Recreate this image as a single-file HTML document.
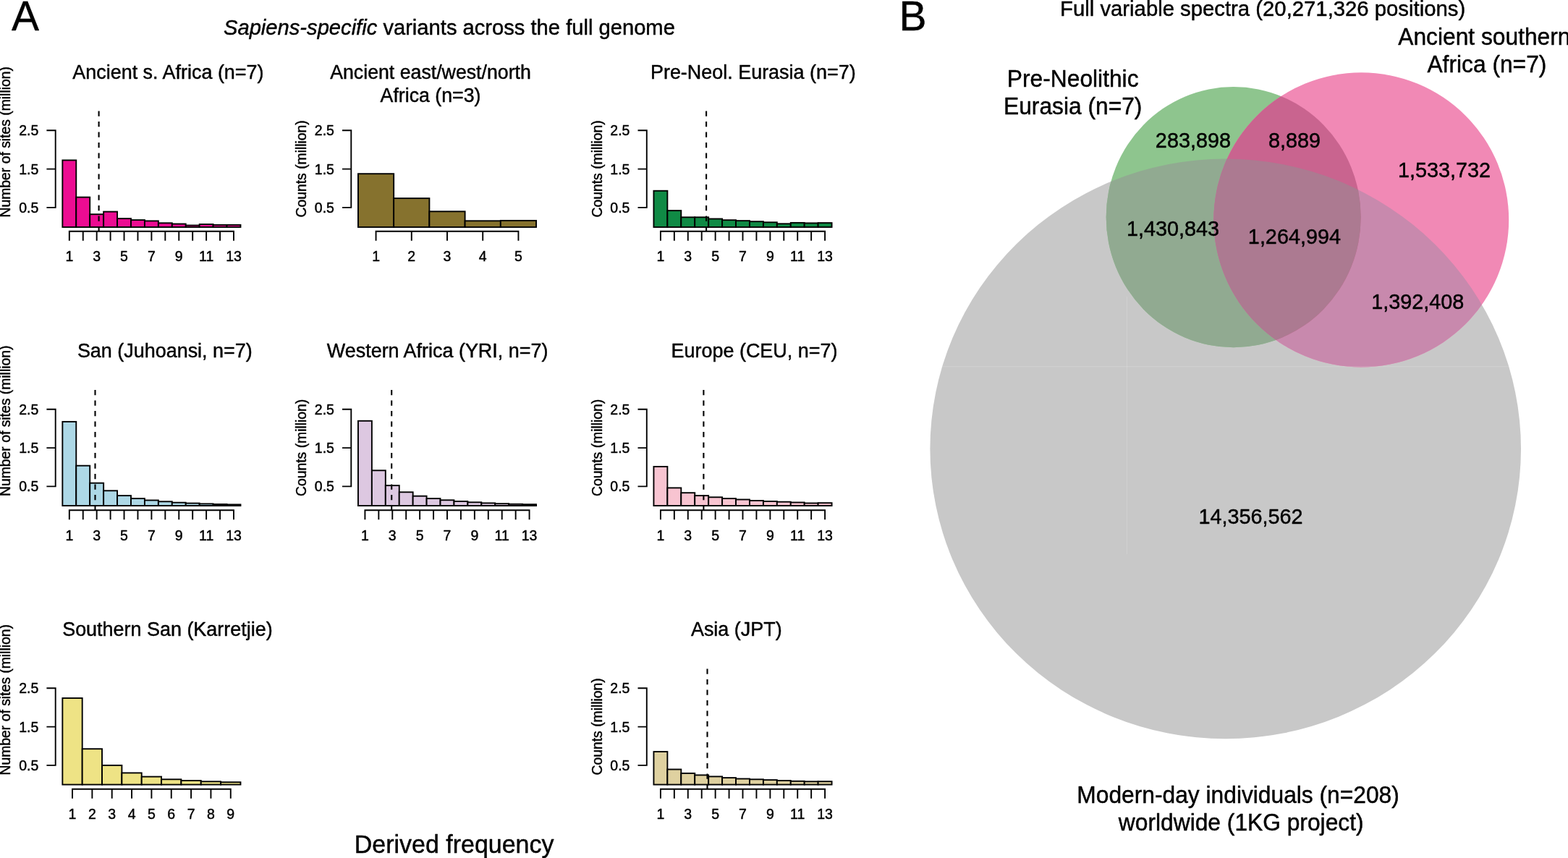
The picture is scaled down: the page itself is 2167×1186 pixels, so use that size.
<!DOCTYPE html>
<html lang="en">
<head>
<meta charset="utf-8">
<title>Sapiens-specific variants across the full genome</title>
<style>
html,body{margin:0;padding:0;background:#fff;}
body{width:2167px;height:1186px;overflow:hidden;}
svg{display:block;font-family:"Liberation Sans", Arial, Helvetica, sans-serif;fill:#000;}
text{stroke:#000;stroke-width:0.45px;stroke-linejoin:round;}
</style>
</head>
<body>
<svg width="2167" height="1186" viewBox="0 0 2167 1186">
<rect width="2167" height="1186" fill="#fff"/>
<g id="panelA">
<text transform="translate(16.1 42.05)" font-size="57">A</text>
<text transform="translate(309 48) scale(1 1.03)" font-size="29.16"><tspan font-style="italic">Sapiens-specific</tspan> variants across the full genome</text>
<g>
<text transform="translate(232.4 108.85) scale(1 1.03)" font-size="26.95" text-anchor="middle">Ancient s. Africa (n=7)</text>
<text transform="translate(14.4 300.5) rotate(-90) scale(1 1.03)" font-size="19.35">Number of sites (million)</text>
<rect x="86.35" y="221.45" width="18.93" height="92.5" fill="#EC0C92" stroke="#000" stroke-width="1.9" stroke-linejoin="miter"/>
<rect x="105.28" y="272.6" width="18.93" height="41.35" fill="#EC0C92" stroke="#000" stroke-width="1.9" stroke-linejoin="miter"/>
<rect x="124.21" y="296.2" width="18.93" height="17.75" fill="#EC0C92" stroke="#000" stroke-width="1.9" stroke-linejoin="miter"/>
<rect x="143.14" y="292.6" width="18.93" height="21.35" fill="#EC0C92" stroke="#000" stroke-width="1.9" stroke-linejoin="miter"/>
<rect x="162.07" y="302.1" width="18.93" height="11.85" fill="#EC0C92" stroke="#000" stroke-width="1.9" stroke-linejoin="miter"/>
<rect x="181" y="304.1" width="18.93" height="9.85" fill="#EC0C92" stroke="#000" stroke-width="1.9" stroke-linejoin="miter"/>
<rect x="199.93" y="305.4" width="18.93" height="8.55" fill="#EC0C92" stroke="#000" stroke-width="1.9" stroke-linejoin="miter"/>
<rect x="218.87" y="308.3" width="18.93" height="5.65" fill="#EC0C92" stroke="#000" stroke-width="1.9" stroke-linejoin="miter"/>
<rect x="237.8" y="309.5" width="18.93" height="4.45" fill="#EC0C92" stroke="#000" stroke-width="1.9" stroke-linejoin="miter"/>
<rect x="256.73" y="311.5" width="18.93" height="2.45" fill="#EC0C92" stroke="#000" stroke-width="1.9" stroke-linejoin="miter"/>
<rect x="275.66" y="310" width="18.93" height="3.95" fill="#EC0C92" stroke="#000" stroke-width="1.9" stroke-linejoin="miter"/>
<rect x="294.59" y="310.9" width="18.93" height="3.05" fill="#EC0C92" stroke="#000" stroke-width="1.9" stroke-linejoin="miter"/>
<rect x="313.52" y="310.9" width="18.93" height="3.05" fill="#EC0C92" stroke="#000" stroke-width="1.9" stroke-linejoin="miter"/>
<line x1="136.6" y1="153.4" x2="136.6" y2="319.7" stroke="#000" stroke-width="2.1" stroke-dasharray="7.3 7.2"/>
<path d="M64.4 180.3H76.7V286.9H64.4M64.4 233.6H76.7" fill="none" stroke="#000" stroke-width="1.9" stroke-linecap="butt"/>
<text transform="translate(53.3 187.3) scale(1 1.03)" font-size="19.5" text-anchor="end">2.5</text>
<text transform="translate(53.3 240.6) scale(1 1.03)" font-size="19.5" text-anchor="end">1.5</text>
<text transform="translate(53.3 293.9) scale(1 1.03)" font-size="19.5" text-anchor="end">0.5</text>
<path d="M95.82 319.7H322.98M95.82 319.7V331.7M114.75 319.7V331.7M133.68 319.7V331.7M152.61 319.7V331.7M171.54 319.7V331.7M190.47 319.7V331.7M209.4 319.7V331.7M228.33 319.7V331.7M247.26 319.7V331.7M266.19 319.7V331.7M285.12 319.7V331.7M304.05 319.7V331.7M322.98 319.7V331.7" fill="none" stroke="#000" stroke-width="1.9" stroke-linecap="square"/>
<text transform="translate(95.82 361.1) scale(1 1.03)" font-size="19.5" text-anchor="middle">1</text>
<text transform="translate(133.68 361.1) scale(1 1.03)" font-size="19.5" text-anchor="middle">3</text>
<text transform="translate(171.54 361.1) scale(1 1.03)" font-size="19.5" text-anchor="middle">5</text>
<text transform="translate(209.4 361.1) scale(1 1.03)" font-size="19.5" text-anchor="middle">7</text>
<text transform="translate(247.26 361.1) scale(1 1.03)" font-size="19.5" text-anchor="middle">9</text>
<text transform="translate(285.12 361.1) scale(1 1.03)" font-size="19.5" text-anchor="middle">11</text>
<text transform="translate(322.98 361.1) scale(1 1.03)" font-size="19.5" text-anchor="middle">13</text>
</g>
<g>
<text transform="translate(595 108.85) scale(1 1.03)" font-size="26.72" text-anchor="middle">Ancient east/west/north</text>
<text transform="translate(595 140.55) scale(1 1.03)" font-size="26.72" text-anchor="middle">Africa (n=3)</text>
<text transform="translate(423 300.5) rotate(-90) scale(1 1.03)" font-size="19.35">Counts (million)</text>
<rect x="494.95" y="240.2" width="49.22" height="73.75" fill="#86722E" stroke="#000" stroke-width="1.9" stroke-linejoin="miter"/>
<rect x="544.17" y="274.1" width="49.22" height="39.85" fill="#86722E" stroke="#000" stroke-width="1.9" stroke-linejoin="miter"/>
<rect x="593.39" y="292.3" width="49.22" height="21.65" fill="#86722E" stroke="#000" stroke-width="1.9" stroke-linejoin="miter"/>
<rect x="642.61" y="305.3" width="49.22" height="8.65" fill="#86722E" stroke="#000" stroke-width="1.9" stroke-linejoin="miter"/>
<rect x="691.83" y="304.9" width="49.22" height="9.05" fill="#86722E" stroke="#000" stroke-width="1.9" stroke-linejoin="miter"/>
<path d="M473 180.3H485.3V286.9H473M473 233.6H485.3" fill="none" stroke="#000" stroke-width="1.9" stroke-linecap="butt"/>
<text transform="translate(461.9 187.3) scale(1 1.03)" font-size="19.5" text-anchor="end">2.5</text>
<text transform="translate(461.9 240.6) scale(1 1.03)" font-size="19.5" text-anchor="end">1.5</text>
<text transform="translate(461.9 293.9) scale(1 1.03)" font-size="19.5" text-anchor="end">0.5</text>
<path d="M519.56 319.7H716.44M519.56 319.7V331.7M568.78 319.7V331.7M618 319.7V331.7M667.22 319.7V331.7M716.44 319.7V331.7" fill="none" stroke="#000" stroke-width="1.9" stroke-linecap="square"/>
<text transform="translate(519.56 361.1) scale(1 1.03)" font-size="19.5" text-anchor="middle">1</text>
<text transform="translate(568.78 361.1) scale(1 1.03)" font-size="19.5" text-anchor="middle">2</text>
<text transform="translate(618 361.1) scale(1 1.03)" font-size="19.5" text-anchor="middle">3</text>
<text transform="translate(667.22 361.1) scale(1 1.03)" font-size="19.5" text-anchor="middle">4</text>
<text transform="translate(716.44 361.1) scale(1 1.03)" font-size="19.5" text-anchor="middle">5</text>
</g>
<g>
<text transform="translate(1040.8 108.85) scale(1 1.03)" font-size="26.95" text-anchor="middle">Pre-Neol. Eurasia (n=7)</text>
<text transform="translate(831.5 300.5) rotate(-90) scale(1 1.03)" font-size="19.35">Counts (million)</text>
<rect x="903.45" y="263.75" width="18.93" height="50.2" fill="#108A45" stroke="#000" stroke-width="1.9" stroke-linejoin="miter"/>
<rect x="922.38" y="291.1" width="18.93" height="22.85" fill="#108A45" stroke="#000" stroke-width="1.9" stroke-linejoin="miter"/>
<rect x="941.31" y="300.3" width="18.93" height="13.65" fill="#108A45" stroke="#000" stroke-width="1.9" stroke-linejoin="miter"/>
<rect x="960.24" y="300.3" width="18.93" height="13.65" fill="#108A45" stroke="#000" stroke-width="1.9" stroke-linejoin="miter"/>
<rect x="979.17" y="302.5" width="18.93" height="11.45" fill="#108A45" stroke="#000" stroke-width="1.9" stroke-linejoin="miter"/>
<rect x="998.1" y="304.2" width="18.93" height="9.75" fill="#108A45" stroke="#000" stroke-width="1.9" stroke-linejoin="miter"/>
<rect x="1017.03" y="305.1" width="18.93" height="8.85" fill="#108A45" stroke="#000" stroke-width="1.9" stroke-linejoin="miter"/>
<rect x="1035.97" y="306.2" width="18.93" height="7.75" fill="#108A45" stroke="#000" stroke-width="1.9" stroke-linejoin="miter"/>
<rect x="1054.9" y="307.3" width="18.93" height="6.65" fill="#108A45" stroke="#000" stroke-width="1.9" stroke-linejoin="miter"/>
<rect x="1073.83" y="309.3" width="18.93" height="4.65" fill="#108A45" stroke="#000" stroke-width="1.9" stroke-linejoin="miter"/>
<rect x="1092.76" y="307.9" width="18.93" height="6.05" fill="#108A45" stroke="#000" stroke-width="1.9" stroke-linejoin="miter"/>
<rect x="1111.69" y="308.4" width="18.93" height="5.55" fill="#108A45" stroke="#000" stroke-width="1.9" stroke-linejoin="miter"/>
<rect x="1130.62" y="308.1" width="18.93" height="5.85" fill="#108A45" stroke="#000" stroke-width="1.9" stroke-linejoin="miter"/>
<line x1="976.1" y1="153.4" x2="976.1" y2="319.7" stroke="#000" stroke-width="2.1" stroke-dasharray="7.3 7.2"/>
<path d="M881.5 180.3H893.8V286.9H881.5M881.5 233.6H893.8" fill="none" stroke="#000" stroke-width="1.9" stroke-linecap="butt"/>
<text transform="translate(870.4 187.3) scale(1 1.03)" font-size="19.5" text-anchor="end">2.5</text>
<text transform="translate(870.4 240.6) scale(1 1.03)" font-size="19.5" text-anchor="end">1.5</text>
<text transform="translate(870.4 293.9) scale(1 1.03)" font-size="19.5" text-anchor="end">0.5</text>
<path d="M912.92 319.7H1140.08M912.92 319.7V331.7M931.85 319.7V331.7M950.78 319.7V331.7M969.71 319.7V331.7M988.64 319.7V331.7M1007.57 319.7V331.7M1026.5 319.7V331.7M1045.43 319.7V331.7M1064.36 319.7V331.7M1083.29 319.7V331.7M1102.22 319.7V331.7M1121.15 319.7V331.7M1140.08 319.7V331.7" fill="none" stroke="#000" stroke-width="1.9" stroke-linecap="square"/>
<text transform="translate(912.92 361.1) scale(1 1.03)" font-size="19.5" text-anchor="middle">1</text>
<text transform="translate(950.78 361.1) scale(1 1.03)" font-size="19.5" text-anchor="middle">3</text>
<text transform="translate(988.64 361.1) scale(1 1.03)" font-size="19.5" text-anchor="middle">5</text>
<text transform="translate(1026.5 361.1) scale(1 1.03)" font-size="19.5" text-anchor="middle">7</text>
<text transform="translate(1064.36 361.1) scale(1 1.03)" font-size="19.5" text-anchor="middle">9</text>
<text transform="translate(1102.22 361.1) scale(1 1.03)" font-size="19.5" text-anchor="middle">11</text>
<text transform="translate(1140.08 361.1) scale(1 1.03)" font-size="19.5" text-anchor="middle">13</text>
</g>
<g>
<text transform="translate(227.8 493.6) scale(1 1.03)" font-size="26.95" text-anchor="middle">San (Juhoansi, n=7)</text>
<text transform="translate(14.4 686) rotate(-90) scale(1 1.03)" font-size="19.35">Number of sites (million)</text>
<rect x="86.35" y="582.9" width="18.93" height="116.15" fill="#ADD8E6" stroke="#000" stroke-width="1.9" stroke-linejoin="miter"/>
<rect x="105.28" y="643.7" width="18.93" height="55.35" fill="#ADD8E6" stroke="#000" stroke-width="1.9" stroke-linejoin="miter"/>
<rect x="124.21" y="667.7" width="18.93" height="31.35" fill="#ADD8E6" stroke="#000" stroke-width="1.9" stroke-linejoin="miter"/>
<rect x="143.14" y="678.3" width="18.93" height="20.75" fill="#ADD8E6" stroke="#000" stroke-width="1.9" stroke-linejoin="miter"/>
<rect x="162.07" y="685.1" width="18.93" height="13.95" fill="#ADD8E6" stroke="#000" stroke-width="1.9" stroke-linejoin="miter"/>
<rect x="181" y="689.1" width="18.93" height="9.95" fill="#ADD8E6" stroke="#000" stroke-width="1.9" stroke-linejoin="miter"/>
<rect x="199.93" y="691.5" width="18.93" height="7.55" fill="#ADD8E6" stroke="#000" stroke-width="1.9" stroke-linejoin="miter"/>
<rect x="218.87" y="693.3" width="18.93" height="5.75" fill="#ADD8E6" stroke="#000" stroke-width="1.9" stroke-linejoin="miter"/>
<rect x="237.8" y="694.7" width="18.93" height="4.35" fill="#ADD8E6" stroke="#000" stroke-width="1.9" stroke-linejoin="miter"/>
<rect x="256.73" y="695.6" width="18.93" height="3.45" fill="#ADD8E6" stroke="#000" stroke-width="1.9" stroke-linejoin="miter"/>
<rect x="275.66" y="696.4" width="18.93" height="2.65" fill="#ADD8E6" stroke="#000" stroke-width="1.9" stroke-linejoin="miter"/>
<rect x="294.59" y="697" width="18.93" height="2.05" fill="#ADD8E6" stroke="#000" stroke-width="1.9" stroke-linejoin="miter"/>
<rect x="313.52" y="697.4" width="18.93" height="1.65" fill="#ADD8E6" stroke="#000" stroke-width="1.9" stroke-linejoin="miter"/>
<line x1="131.5" y1="538.9" x2="131.5" y2="705.2" stroke="#000" stroke-width="2.1" stroke-dasharray="7.3 7.2"/>
<path d="M64.4 565.8H76.7V672.4H64.4M64.4 619.1H76.7" fill="none" stroke="#000" stroke-width="1.9" stroke-linecap="butt"/>
<text transform="translate(53.3 572.8) scale(1 1.03)" font-size="19.5" text-anchor="end">2.5</text>
<text transform="translate(53.3 626.1) scale(1 1.03)" font-size="19.5" text-anchor="end">1.5</text>
<text transform="translate(53.3 679.4) scale(1 1.03)" font-size="19.5" text-anchor="end">0.5</text>
<path d="M95.82 705.2H322.98M95.82 705.2V717.2M114.75 705.2V717.2M133.68 705.2V717.2M152.61 705.2V717.2M171.54 705.2V717.2M190.47 705.2V717.2M209.4 705.2V717.2M228.33 705.2V717.2M247.26 705.2V717.2M266.19 705.2V717.2M285.12 705.2V717.2M304.05 705.2V717.2M322.98 705.2V717.2" fill="none" stroke="#000" stroke-width="1.9" stroke-linecap="square"/>
<text transform="translate(95.82 746.6) scale(1 1.03)" font-size="19.5" text-anchor="middle">1</text>
<text transform="translate(133.68 746.6) scale(1 1.03)" font-size="19.5" text-anchor="middle">3</text>
<text transform="translate(171.54 746.6) scale(1 1.03)" font-size="19.5" text-anchor="middle">5</text>
<text transform="translate(209.4 746.6) scale(1 1.03)" font-size="19.5" text-anchor="middle">7</text>
<text transform="translate(247.26 746.6) scale(1 1.03)" font-size="19.5" text-anchor="middle">9</text>
<text transform="translate(285.12 746.6) scale(1 1.03)" font-size="19.5" text-anchor="middle">11</text>
<text transform="translate(322.98 746.6) scale(1 1.03)" font-size="19.5" text-anchor="middle">13</text>
</g>
<g>
<text transform="translate(604.6 493.6) scale(1 1.03)" font-size="26.95" text-anchor="middle">Western Africa (YRI, n=7)</text>
<text transform="translate(423 686) rotate(-90) scale(1 1.03)" font-size="19.35">Counts (million)</text>
<rect x="494.95" y="581.8" width="18.93" height="117.25" fill="#DDC8E1" stroke="#000" stroke-width="1.9" stroke-linejoin="miter"/>
<rect x="513.88" y="650.3" width="18.93" height="48.75" fill="#DDC8E1" stroke="#000" stroke-width="1.9" stroke-linejoin="miter"/>
<rect x="532.81" y="671.1" width="18.93" height="27.95" fill="#DDC8E1" stroke="#000" stroke-width="1.9" stroke-linejoin="miter"/>
<rect x="551.74" y="680.3" width="18.93" height="18.75" fill="#DDC8E1" stroke="#000" stroke-width="1.9" stroke-linejoin="miter"/>
<rect x="570.67" y="685.7" width="18.93" height="13.35" fill="#DDC8E1" stroke="#000" stroke-width="1.9" stroke-linejoin="miter"/>
<rect x="589.6" y="689.1" width="18.93" height="9.95" fill="#DDC8E1" stroke="#000" stroke-width="1.9" stroke-linejoin="miter"/>
<rect x="608.53" y="691.3" width="18.93" height="7.75" fill="#DDC8E1" stroke="#000" stroke-width="1.9" stroke-linejoin="miter"/>
<rect x="627.47" y="693" width="18.93" height="6.05" fill="#DDC8E1" stroke="#000" stroke-width="1.9" stroke-linejoin="miter"/>
<rect x="646.4" y="694.3" width="18.93" height="4.75" fill="#DDC8E1" stroke="#000" stroke-width="1.9" stroke-linejoin="miter"/>
<rect x="665.33" y="695.4" width="18.93" height="3.65" fill="#DDC8E1" stroke="#000" stroke-width="1.9" stroke-linejoin="miter"/>
<rect x="684.26" y="696.2" width="18.93" height="2.85" fill="#DDC8E1" stroke="#000" stroke-width="1.9" stroke-linejoin="miter"/>
<rect x="703.19" y="696.8" width="18.93" height="2.25" fill="#DDC8E1" stroke="#000" stroke-width="1.9" stroke-linejoin="miter"/>
<rect x="722.12" y="697.2" width="18.93" height="1.85" fill="#DDC8E1" stroke="#000" stroke-width="1.9" stroke-linejoin="miter"/>
<line x1="541.2" y1="538.9" x2="541.2" y2="705.2" stroke="#000" stroke-width="2.1" stroke-dasharray="7.3 7.2"/>
<path d="M473 565.8H485.3V672.4H473M473 619.1H485.3" fill="none" stroke="#000" stroke-width="1.9" stroke-linecap="butt"/>
<text transform="translate(461.9 572.8) scale(1 1.03)" font-size="19.5" text-anchor="end">2.5</text>
<text transform="translate(461.9 626.1) scale(1 1.03)" font-size="19.5" text-anchor="end">1.5</text>
<text transform="translate(461.9 679.4) scale(1 1.03)" font-size="19.5" text-anchor="end">0.5</text>
<path d="M504.42 705.2H731.58M504.42 705.2V717.2M523.35 705.2V717.2M542.28 705.2V717.2M561.21 705.2V717.2M580.14 705.2V717.2M599.07 705.2V717.2M618 705.2V717.2M636.93 705.2V717.2M655.86 705.2V717.2M674.79 705.2V717.2M693.72 705.2V717.2M712.65 705.2V717.2M731.58 705.2V717.2" fill="none" stroke="#000" stroke-width="1.9" stroke-linecap="square"/>
<text transform="translate(504.42 746.6) scale(1 1.03)" font-size="19.5" text-anchor="middle">1</text>
<text transform="translate(542.28 746.6) scale(1 1.03)" font-size="19.5" text-anchor="middle">3</text>
<text transform="translate(580.14 746.6) scale(1 1.03)" font-size="19.5" text-anchor="middle">5</text>
<text transform="translate(618 746.6) scale(1 1.03)" font-size="19.5" text-anchor="middle">7</text>
<text transform="translate(655.86 746.6) scale(1 1.03)" font-size="19.5" text-anchor="middle">9</text>
<text transform="translate(693.72 746.6) scale(1 1.03)" font-size="19.5" text-anchor="middle">11</text>
<text transform="translate(731.58 746.6) scale(1 1.03)" font-size="19.5" text-anchor="middle">13</text>
</g>
<g>
<text transform="translate(1042.5 493.6) scale(1 1.03)" font-size="26.95" text-anchor="middle">Europe (CEU, n=7)</text>
<text transform="translate(831.5 686) rotate(-90) scale(1 1.03)" font-size="19.35">Counts (million)</text>
<rect x="903.45" y="645" width="18.93" height="54.05" fill="#F8C4D1" stroke="#000" stroke-width="1.9" stroke-linejoin="miter"/>
<rect x="922.38" y="674.4" width="18.93" height="24.65" fill="#F8C4D1" stroke="#000" stroke-width="1.9" stroke-linejoin="miter"/>
<rect x="941.31" y="681.2" width="18.93" height="17.85" fill="#F8C4D1" stroke="#000" stroke-width="1.9" stroke-linejoin="miter"/>
<rect x="960.24" y="685.1" width="18.93" height="13.95" fill="#F8C4D1" stroke="#000" stroke-width="1.9" stroke-linejoin="miter"/>
<rect x="979.17" y="687.3" width="18.93" height="11.75" fill="#F8C4D1" stroke="#000" stroke-width="1.9" stroke-linejoin="miter"/>
<rect x="998.1" y="689.1" width="18.93" height="9.95" fill="#F8C4D1" stroke="#000" stroke-width="1.9" stroke-linejoin="miter"/>
<rect x="1017.03" y="690.5" width="18.93" height="8.55" fill="#F8C4D1" stroke="#000" stroke-width="1.9" stroke-linejoin="miter"/>
<rect x="1035.97" y="692" width="18.93" height="7.05" fill="#F8C4D1" stroke="#000" stroke-width="1.9" stroke-linejoin="miter"/>
<rect x="1054.9" y="693" width="18.93" height="6.05" fill="#F8C4D1" stroke="#000" stroke-width="1.9" stroke-linejoin="miter"/>
<rect x="1073.83" y="693.7" width="18.93" height="5.35" fill="#F8C4D1" stroke="#000" stroke-width="1.9" stroke-linejoin="miter"/>
<rect x="1092.76" y="694.5" width="18.93" height="4.55" fill="#F8C4D1" stroke="#000" stroke-width="1.9" stroke-linejoin="miter"/>
<rect x="1111.69" y="695.5" width="18.93" height="3.55" fill="#F8C4D1" stroke="#000" stroke-width="1.9" stroke-linejoin="miter"/>
<rect x="1130.62" y="695.2" width="18.93" height="3.85" fill="#F8C4D1" stroke="#000" stroke-width="1.9" stroke-linejoin="miter"/>
<line x1="972.4" y1="538.9" x2="972.4" y2="705.2" stroke="#000" stroke-width="2.1" stroke-dasharray="7.3 7.2"/>
<path d="M881.5 565.8H893.8V672.4H881.5M881.5 619.1H893.8" fill="none" stroke="#000" stroke-width="1.9" stroke-linecap="butt"/>
<text transform="translate(870.4 572.8) scale(1 1.03)" font-size="19.5" text-anchor="end">2.5</text>
<text transform="translate(870.4 626.1) scale(1 1.03)" font-size="19.5" text-anchor="end">1.5</text>
<text transform="translate(870.4 679.4) scale(1 1.03)" font-size="19.5" text-anchor="end">0.5</text>
<path d="M912.92 705.2H1140.08M912.92 705.2V717.2M931.85 705.2V717.2M950.78 705.2V717.2M969.71 705.2V717.2M988.64 705.2V717.2M1007.57 705.2V717.2M1026.5 705.2V717.2M1045.43 705.2V717.2M1064.36 705.2V717.2M1083.29 705.2V717.2M1102.22 705.2V717.2M1121.15 705.2V717.2M1140.08 705.2V717.2" fill="none" stroke="#000" stroke-width="1.9" stroke-linecap="square"/>
<text transform="translate(912.92 746.6) scale(1 1.03)" font-size="19.5" text-anchor="middle">1</text>
<text transform="translate(950.78 746.6) scale(1 1.03)" font-size="19.5" text-anchor="middle">3</text>
<text transform="translate(988.64 746.6) scale(1 1.03)" font-size="19.5" text-anchor="middle">5</text>
<text transform="translate(1026.5 746.6) scale(1 1.03)" font-size="19.5" text-anchor="middle">7</text>
<text transform="translate(1064.36 746.6) scale(1 1.03)" font-size="19.5" text-anchor="middle">9</text>
<text transform="translate(1102.22 746.6) scale(1 1.03)" font-size="19.5" text-anchor="middle">11</text>
<text transform="translate(1140.08 746.6) scale(1 1.03)" font-size="19.5" text-anchor="middle">13</text>
</g>
<g>
<text transform="translate(231.4 879.4) scale(1 1.03)" font-size="26.95" text-anchor="middle">Southern San (Karretjie)</text>
<text transform="translate(14.4 1071.5) rotate(-90) scale(1 1.03)" font-size="19.35">Number of sites (million)</text>
<rect x="86.35" y="965" width="27.34" height="119.55" fill="#EEE385" stroke="#000" stroke-width="1.9" stroke-linejoin="miter"/>
<rect x="113.69" y="1035.2" width="27.34" height="49.35" fill="#EEE385" stroke="#000" stroke-width="1.9" stroke-linejoin="miter"/>
<rect x="141.04" y="1057.9" width="27.34" height="26.65" fill="#EEE385" stroke="#000" stroke-width="1.9" stroke-linejoin="miter"/>
<rect x="168.38" y="1068.4" width="27.34" height="16.15" fill="#EEE385" stroke="#000" stroke-width="1.9" stroke-linejoin="miter"/>
<rect x="195.73" y="1073.6" width="27.34" height="10.95" fill="#EEE385" stroke="#000" stroke-width="1.9" stroke-linejoin="miter"/>
<rect x="223.07" y="1077.3" width="27.34" height="7.25" fill="#EEE385" stroke="#000" stroke-width="1.9" stroke-linejoin="miter"/>
<rect x="250.42" y="1079" width="27.34" height="5.55" fill="#EEE385" stroke="#000" stroke-width="1.9" stroke-linejoin="miter"/>
<rect x="277.76" y="1080.3" width="27.34" height="4.25" fill="#EEE385" stroke="#000" stroke-width="1.9" stroke-linejoin="miter"/>
<rect x="305.11" y="1081.2" width="27.34" height="3.35" fill="#EEE385" stroke="#000" stroke-width="1.9" stroke-linejoin="miter"/>
<path d="M64.4 951.3H76.7V1057.9H64.4M64.4 1004.6H76.7" fill="none" stroke="#000" stroke-width="1.9" stroke-linecap="butt"/>
<text transform="translate(53.3 958.3) scale(1 1.03)" font-size="19.5" text-anchor="end">2.5</text>
<text transform="translate(53.3 1011.6) scale(1 1.03)" font-size="19.5" text-anchor="end">1.5</text>
<text transform="translate(53.3 1064.9) scale(1 1.03)" font-size="19.5" text-anchor="end">0.5</text>
<path d="M100.02 1090.7H318.78M100.02 1090.7V1102.7M127.37 1090.7V1102.7M154.71 1090.7V1102.7M182.06 1090.7V1102.7M209.4 1090.7V1102.7M236.74 1090.7V1102.7M264.09 1090.7V1102.7M291.43 1090.7V1102.7M318.78 1090.7V1102.7" fill="none" stroke="#000" stroke-width="1.9" stroke-linecap="square"/>
<text transform="translate(100.02 1132.1) scale(1 1.03)" font-size="19.5" text-anchor="middle">1</text>
<text transform="translate(127.37 1132.1) scale(1 1.03)" font-size="19.5" text-anchor="middle">2</text>
<text transform="translate(154.71 1132.1) scale(1 1.03)" font-size="19.5" text-anchor="middle">3</text>
<text transform="translate(182.06 1132.1) scale(1 1.03)" font-size="19.5" text-anchor="middle">4</text>
<text transform="translate(209.4 1132.1) scale(1 1.03)" font-size="19.5" text-anchor="middle">5</text>
<text transform="translate(236.74 1132.1) scale(1 1.03)" font-size="19.5" text-anchor="middle">6</text>
<text transform="translate(264.09 1132.1) scale(1 1.03)" font-size="19.5" text-anchor="middle">7</text>
<text transform="translate(291.43 1132.1) scale(1 1.03)" font-size="19.5" text-anchor="middle">8</text>
<text transform="translate(318.78 1132.1) scale(1 1.03)" font-size="19.5" text-anchor="middle">9</text>
</g>
<g>
<text transform="translate(1017.8 879.4) scale(1 1.03)" font-size="26.95" text-anchor="middle">Asia (JPT)</text>
<text transform="translate(831.5 1071.5) rotate(-90) scale(1 1.03)" font-size="19.35">Counts (million)</text>
<rect x="903.45" y="1039.05" width="18.93" height="45.5" fill="#DFD1A0" stroke="#000" stroke-width="1.9" stroke-linejoin="miter"/>
<rect x="922.38" y="1063.5" width="18.93" height="21.05" fill="#DFD1A0" stroke="#000" stroke-width="1.9" stroke-linejoin="miter"/>
<rect x="941.31" y="1068.9" width="18.93" height="15.65" fill="#DFD1A0" stroke="#000" stroke-width="1.9" stroke-linejoin="miter"/>
<rect x="960.24" y="1071.4" width="18.93" height="13.15" fill="#DFD1A0" stroke="#000" stroke-width="1.9" stroke-linejoin="miter"/>
<rect x="979.17" y="1073.4" width="18.93" height="11.15" fill="#DFD1A0" stroke="#000" stroke-width="1.9" stroke-linejoin="miter"/>
<rect x="998.1" y="1075.1" width="18.93" height="9.45" fill="#DFD1A0" stroke="#000" stroke-width="1.9" stroke-linejoin="miter"/>
<rect x="1017.03" y="1076.5" width="18.93" height="8.05" fill="#DFD1A0" stroke="#000" stroke-width="1.9" stroke-linejoin="miter"/>
<rect x="1035.97" y="1077.3" width="18.93" height="7.25" fill="#DFD1A0" stroke="#000" stroke-width="1.9" stroke-linejoin="miter"/>
<rect x="1054.9" y="1078.1" width="18.93" height="6.45" fill="#DFD1A0" stroke="#000" stroke-width="1.9" stroke-linejoin="miter"/>
<rect x="1073.83" y="1079" width="18.93" height="5.55" fill="#DFD1A0" stroke="#000" stroke-width="1.9" stroke-linejoin="miter"/>
<rect x="1092.76" y="1079.8" width="18.93" height="4.75" fill="#DFD1A0" stroke="#000" stroke-width="1.9" stroke-linejoin="miter"/>
<rect x="1111.69" y="1080.3" width="18.93" height="4.25" fill="#DFD1A0" stroke="#000" stroke-width="1.9" stroke-linejoin="miter"/>
<rect x="1130.62" y="1080.2" width="18.93" height="4.35" fill="#DFD1A0" stroke="#000" stroke-width="1.9" stroke-linejoin="miter"/>
<line x1="977.5" y1="924.4" x2="977.5" y2="1090.7" stroke="#000" stroke-width="2.1" stroke-dasharray="7.3 7.2"/>
<path d="M881.5 951.3H893.8V1057.9H881.5M881.5 1004.6H893.8" fill="none" stroke="#000" stroke-width="1.9" stroke-linecap="butt"/>
<text transform="translate(870.4 958.3) scale(1 1.03)" font-size="19.5" text-anchor="end">2.5</text>
<text transform="translate(870.4 1011.6) scale(1 1.03)" font-size="19.5" text-anchor="end">1.5</text>
<text transform="translate(870.4 1064.9) scale(1 1.03)" font-size="19.5" text-anchor="end">0.5</text>
<path d="M912.92 1090.7H1140.08M912.92 1090.7V1102.7M931.85 1090.7V1102.7M950.78 1090.7V1102.7M969.71 1090.7V1102.7M988.64 1090.7V1102.7M1007.57 1090.7V1102.7M1026.5 1090.7V1102.7M1045.43 1090.7V1102.7M1064.36 1090.7V1102.7M1083.29 1090.7V1102.7M1102.22 1090.7V1102.7M1121.15 1090.7V1102.7M1140.08 1090.7V1102.7" fill="none" stroke="#000" stroke-width="1.9" stroke-linecap="square"/>
<text transform="translate(912.92 1132.1) scale(1 1.03)" font-size="19.5" text-anchor="middle">1</text>
<text transform="translate(950.78 1132.1) scale(1 1.03)" font-size="19.5" text-anchor="middle">3</text>
<text transform="translate(988.64 1132.1) scale(1 1.03)" font-size="19.5" text-anchor="middle">5</text>
<text transform="translate(1026.5 1132.1) scale(1 1.03)" font-size="19.5" text-anchor="middle">7</text>
<text transform="translate(1064.36 1132.1) scale(1 1.03)" font-size="19.5" text-anchor="middle">9</text>
<text transform="translate(1102.22 1132.1) scale(1 1.03)" font-size="19.5" text-anchor="middle">11</text>
<text transform="translate(1140.08 1132.1) scale(1 1.03)" font-size="19.5" text-anchor="middle">13</text>
</g>
<text transform="translate(627.6 1179.3) scale(1 1.03)" font-size="33.97" text-anchor="middle">Derived frequency</text>
</g>
<g id="panelB">
<defs>
<clipPath id="cG"><ellipse cx="1693.7" cy="620.4" rx="408.3" ry="400.8" /></clipPath>
<clipPath id="cE"><ellipse cx="1704.7" cy="300.05" rx="176.0" ry="180.1" /></clipPath>
<clipPath id="cP"><ellipse cx="1881.3" cy="303.9" rx="203.9" ry="203.6" /></clipPath>
</defs>
<ellipse cx="1693.7" cy="620.4" rx="408.3" ry="400.8" fill="#C8C8C8"/>
<ellipse cx="1704.7" cy="300.05" rx="176.0" ry="180.1" fill="#8EC58E"/>
<ellipse cx="1881.3" cy="303.9" rx="203.9" ry="203.6" fill="#F189B5"/>
<g clip-path="url(#cG)"><ellipse cx="1704.7" cy="300.05" rx="176.0" ry="180.1" fill="#91AA91"/><ellipse cx="1881.3" cy="303.9" rx="203.9" ry="203.6" fill="#C889AD"/></g>
<g clip-path="url(#cE)"><ellipse cx="1881.3" cy="303.9" rx="203.9" ry="203.6" fill="#C9648F"/><g clip-path="url(#cG)"><ellipse cx="1881.3" cy="303.9" rx="203.9" ry="203.6" fill="#AC7A91"/></g></g>
<g clip-path="url(#cG)" stroke="#fff" stroke-opacity="0.18" stroke-width="1"><line x1="1280" y1="506.8" x2="2110" y2="506.8"/><line x1="1557.4" y1="410" x2="1557.4" y2="766"/></g>
<text transform="translate(1242.6 41.5)" font-size="57">B</text>
<text transform="translate(1745.1 21.9) scale(1 1.03)" font-size="29.3" text-anchor="middle">Full variable spectra (20,271,326 positions)</text>
<text transform="translate(2051.4 62.1) scale(1 1.03)" font-size="31.76" text-anchor="middle">Ancient southern</text>
<text transform="translate(2054.9 99.7) scale(1 1.03)" font-size="31.76" text-anchor="middle">Africa (n=7)</text>
<text transform="translate(1482.7 119.75) scale(1 1.03)" font-size="31.76" text-anchor="middle">Pre-Neolithic</text>
<text transform="translate(1482.7 158.4) scale(1 1.03)" font-size="31.76" text-anchor="middle">Eurasia (n=7)</text>
<text transform="translate(1648.9 203.6) scale(1 1.03)" font-size="28.8" text-anchor="middle">283,898</text>
<text transform="translate(1788.9 203.6) scale(1 1.03)" font-size="28.8" text-anchor="middle">8,889</text>
<text transform="translate(1996 245.2) scale(1 1.03)" font-size="28.8" text-anchor="middle">1,533,732</text>
<text transform="translate(1621 326.1) scale(1 1.03)" font-size="28.8" text-anchor="middle">1,430,843</text>
<text transform="translate(1788.9 336.5) scale(1 1.03)" font-size="28.8" text-anchor="middle">1,264,994</text>
<text transform="translate(1959.3 426.6) scale(1 1.03)" font-size="28.8" text-anchor="middle">1,392,408</text>
<text transform="translate(1728.6 724.3) scale(1 1.03)" font-size="28.8" text-anchor="middle">14,356,562</text>
<text transform="translate(1711.1 1109.8) scale(1 1.03)" font-size="31.76" text-anchor="middle">Modern-day individuals (n=208)</text>
<text transform="translate(1715.2 1148.3) scale(1 1.03)" font-size="31.76" text-anchor="middle">worldwide (1KG project)</text>
</g>
</svg>
</body>
</html>
